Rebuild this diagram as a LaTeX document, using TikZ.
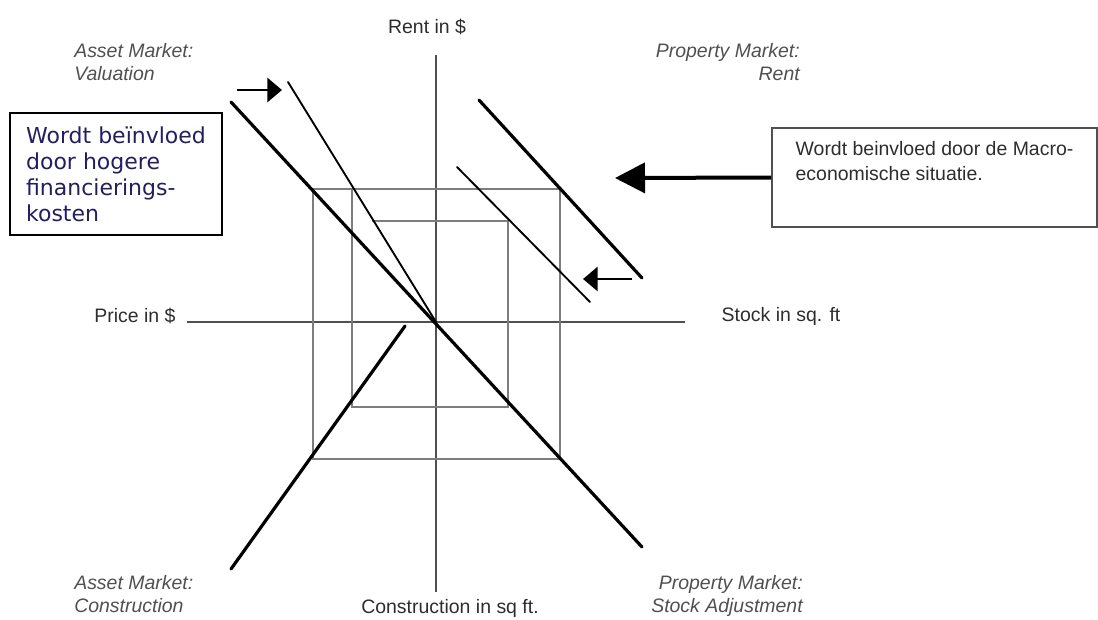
\documentclass[tikz,border=0pt]{standalone}
\usepackage{fontspec}
\setmainfont{Liberation Sans}
\newfontfamily\notefont{DejaVu Sans}
\usepackage{tikz}
\usetikzlibrary{arrows.meta}
\definecolor{axisgray}{RGB}{80,80,80}
\definecolor{gridgray}{RGB}{125,125,125}
\definecolor{labelgray}{RGB}{80,80,80}
\definecolor{textgray}{RGB}{45,45,45}
\definecolor{notenavy}{RGB}{35,30,95}

\begin{document}
\begin{tikzpicture}[x=0.75pt, y=-0.75pt,
	axis/.style={draw=axisgray, line width=1.6pt},
	gridline/.style={draw=gridgray, line width=1.6pt},
	curve/.style={draw=black, line width=2.4pt, line cap=round},
	shifted/.style={draw=black, line width=1.4pt, line cap=round},
	shiftarrow/.style={line width=2.2pt, -{Triangle[length=11pt, width=18pt]}},
	market/.style={font=\fontsize{14.6}{17}\selectfont\itshape, text=labelgray, inner sep=0pt},
	axislabel/.style={font=\fontsize{14.6}{17}\selectfont, text=textgray, inner sep=0pt}]
	\useasboundingbox (0,0) rectangle (1098,619);
	% Axes and quadrant grid:
	\draw[axis] (436,55) -- (436,592);
	\draw[axis] (187,322) -- (685,322);
	\draw[gridline] (313,189) rectangle (560,459);
	\draw[gridline] (352,189) -- (352,407) -- (508,407) -- (508,221) -- (372,221);
	% Market curves:
	\draw[curve] (231,102) -- (642,547);
	\draw[shifted] (288,82) -- (436,322);
	\draw[curve] (479,100) -- (642,278);
	\draw[shifted] (457,167) -- (590,302);
	\draw[curve] (231,569) -- (405,326);
	% Axis labels:
	\node[axislabel] (rentaxis) at (427,27) {Rent in \$};
	\node[axislabel] (priceaxis) at (135,316) {Price in \$};
	\node[axislabel] (stockaxis) at (781,316) {Stock in sq. ft};
	\node[axislabel] (constraxis) at (450,608) {Construction in sq ft.};
	% Quadrant labels:
	\node[market, anchor=north west, align=left] (valuation) at (74,43) {Asset Market:\\Valuation};
	\node[market, anchor=north east, align=right] (rentmarket) at (800,43) {Property Market:\\Rent};
	\node[market, anchor=north west, align=left] (construction) at (74,575) {Asset Market:\\Construction};
	\node[market, anchor=north east, align=right] (stockadj) at (803,575) {Property Market:\\Stock Adjustment};
	% Notes and shifts:
	\node[draw, line width=1.2pt, minimum width=159pt, minimum height=91.5pt, inner xsep=0pt,
		align=left, font=\notefont\fontsize{16.5}{19.5}\selectfont, text=notenavy] (costbox) at (116,174)
		{Wordt beïnvloed\\door hogere\\financierings-\\kosten};
	\node[draw=axisgray, line width=1.2pt, minimum width=243.75pt, minimum height=74.25pt, inner xsep=0pt,
		align=left, font=\fontsize{14.6}{18.75}\selectfont, text=textgray] (macrobox) at (934.5,177.5)
		{Wordt beinvloed door de Macro-\\economische situatie.\\\strut};
	\coordinate (macrotip) at (615,178);
	\draw[line width=3pt, -{Triangle[length=22.5pt, width=22.5pt]}] (macrobox.west) -- (macrotip);
	\coordinate (costtail) at (237,90);
	\coordinate (costtip) at (282,90);
	\draw[shiftarrow] (costtail) -- (costtip);
	\coordinate (renttail) at (632,279);
	\coordinate (renttip) at (583,279);
	\draw[shiftarrow] (renttail) -- (renttip);
\end{tikzpicture}
\end{document}
